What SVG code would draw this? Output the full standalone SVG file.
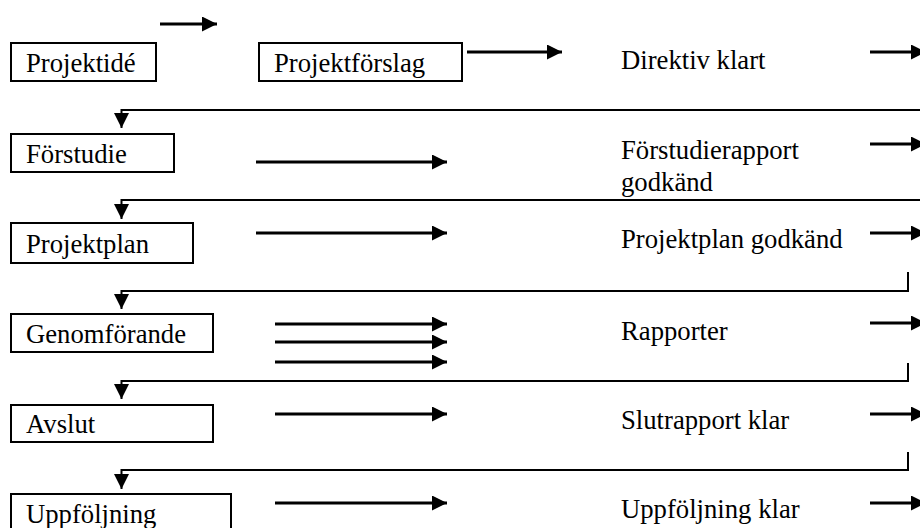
<svg xmlns="http://www.w3.org/2000/svg" width="920" height="528" viewBox="0 0 920 528">
<style>
  .t { font-family: 'Liberation Serif', 'Times New Roman', Times, serif; font-size: 26.7px; fill: #000; }
  .box { fill: #fff; stroke: #000; stroke-width: 2; }
  .arr { fill: none; stroke: #000; stroke-width: 3; marker-end: url(#ah); }
  .ret { fill: none; stroke: #000; stroke-width: 2; marker-end: url(#ah); }
</style>
<defs>
  <marker id="ah" viewBox="0 0 15 15" refX="15" refY="7.5" markerWidth="15" markerHeight="15" markerUnits="userSpaceOnUse" orient="auto">
    <path d="M0,0 L15,7.5 L0,15 z" fill="#000"/>
  </marker>
</defs>
<rect width="920" height="528" fill="#fff"/>

<g id="connectors">
  <path class="arr" d="M160,24 H217"/>
  <path class="arr" d="M467,52 H562"/>
  <path class="arr" d="M256,162 H447"/>
  <path class="arr" d="M256,233 H447"/>
  <path class="arr" d="M275,324 H447"/>
  <path class="arr" d="M275,342 H447"/>
  <path class="arr" d="M275,362 H447"/>
  <path class="arr" d="M275,414 H447"/>
  <path class="arr" d="M275,503 H447"/>
  <path class="arr" d="M870,52 H926"/>
  <path class="arr" d="M870,144 H926"/>
  <path class="arr" d="M870,233 H926"/>
  <path class="arr" d="M870,323 H926"/>
  <path class="arr" d="M870,414 H926"/>
  <path class="arr" d="M870,503 H926"/>
  <path class="ret" d="M920,110 H121.5 V128"/>
  <path class="ret" d="M920,200 H121.5 V219"/>
  <path class="ret" d="M908,272 V291 H121.5 V309"/>
  <path class="ret" d="M908,363 V381 H121.5 V399"/>
  <path class="ret" d="M908,452 V470 H121.5 V489"/>
</g>

<g id="projektide">
  <rect class="box" x="11" y="43" width="145" height="38"/>
  <text class="t" font-family="Liberation Serif, serif" x="26" y="72">Projektidé</text>
</g>
<g id="projektforslag">
  <rect class="box" x="259" y="43" width="203" height="38"/>
  <text class="t" font-family="Liberation Serif, serif" x="274" y="72">Projektförslag</text>
</g>
<g id="direktiv">
  <text class="t" font-family="Liberation Serif, serif" x="621" y="69">Direktiv klart</text>
</g>
<g id="forstudie">
  <rect class="box" x="11" y="134" width="163" height="38"/>
  <text class="t" font-family="Liberation Serif, serif" x="26" y="163">Förstudie</text>
</g>
<g id="forstudierapport">
  <text class="t" font-family="Liberation Serif, serif" x="621" y="159">Förstudierapport</text>
  <text class="t" font-family="Liberation Serif, serif" x="621" y="191">godkänd</text>
</g>
<g id="projektplan">
  <rect class="box" x="11" y="223" width="182" height="40"/>
  <text class="t" font-family="Liberation Serif, serif" x="26" y="253">Projektplan</text>
</g>
<g id="projektplan-godkand">
  <text class="t" font-family="Liberation Serif, serif" x="621" y="248">Projektplan godkänd</text>
</g>
<g id="genomforande">
  <rect class="box" x="11" y="314" width="202" height="38"/>
  <text class="t" font-family="Liberation Serif, serif" x="26" y="343">Genomförande</text>
</g>
<g id="rapporter">
  <text class="t" font-family="Liberation Serif, serif" x="621" y="340">Rapporter</text>
</g>
<g id="avslut">
  <rect class="box" x="11" y="405" width="202" height="37"/>
  <text class="t" font-family="Liberation Serif, serif" x="26" y="433">Avslut</text>
</g>
<g id="slutrapport">
  <text class="t" font-family="Liberation Serif, serif" x="621" y="429">Slutrapport klar</text>
</g>
<g id="uppfoljning">
  <rect class="box" x="11" y="494" width="220" height="40"/>
  <text class="t" font-family="Liberation Serif, serif" x="26" y="523">Uppföljning</text>
</g>
<g id="uppfoljning-klar">
  <text class="t" font-family="Liberation Serif, serif" x="621" y="518">Uppföljning klar</text>
</g>
</svg>
